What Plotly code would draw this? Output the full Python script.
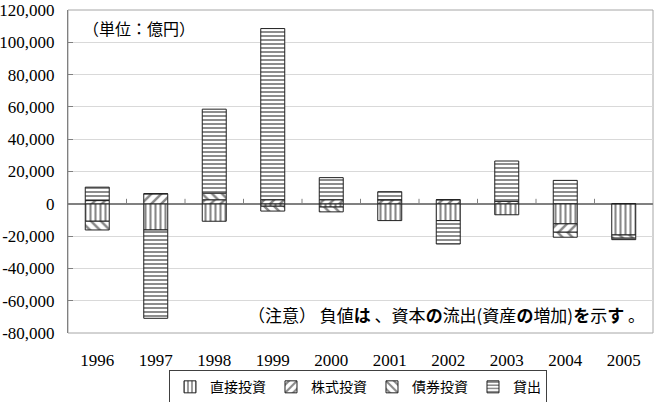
import plotly.graph_objects as go

years = ["1996", "1997", "1998", "1999", "2000", "2001", "2002", "2003", "2004", "2005"]
direct = [-10800, -16200, -10800, -1500, -2000, -10400, -10400, -6800, -12400, -19300]
equity = [2000, 6200, 2500, 2500, 2500, 2500, 2500, 1500, -5200, 0]
bonds = [-5400, 0, 4100, -3000, -3000, 0, 0, 0, -3100, -2000]
loans = [8300, -54700, 52000, 106000, 13700, 5000, -14500, 25000, 14500, -900]

series_names = ["直接投資", "株式投資", "債券投資", "貸出"]
y_tickvals = [-80000, -60000, -40000, -20000, 0, 20000, 40000, 60000, 80000, 100000, 120000]
y_ticktext = ["-80,000", "-60,000", "-40,000", "-20,000", "0", "20,000", "40,000",
              "60,000", "80,000", "100,000", "120,000"]

serif = "Liberation Serif"
gothic = "Noto Sans CJK JP"

patterns = [
    dict(shape="|", size=5, solidity=0.42),
    dict(shape="/", size=7, solidity=0.36),
    dict(shape="\\", size=7, solidity=0.36),
    dict(shape="-", size=4, solidity=0.48),
]

fig = go.Figure()
for name, vals, pat in zip(series_names, [direct, equity, bonds, loans], patterns):
    fig.add_trace(go.Bar(
        x=years, y=vals, name=name,
        marker=dict(color="white",
                    line=dict(color="#202020", width=1),
                    pattern=dict(fgcolor="#101010", bgcolor="white", **pat)),
    ))

# small category tick marks on the zero line
shapes = []
for i in range(len(years) - 1):
    shapes.append(dict(type="line", xref="x", yref="y", x0=i + 0.5, x1=i + 0.5,
                       ysizemode="pixel", yanchor=0, y0=0, y1=5,
                       line=dict(color="#808080", width=1)))
# plot area frame
shapes.append(dict(type="rect", xref="paper", yref="paper", x0=0, x1=1, y0=0, y1=1,
                   line=dict(color="#a6a6a6", width=1), layer="below"))

fig.update_layout(
    width=658, height=402,
    margin=dict(l=68, r=5, t=10, b=69, autoexpand=False),
    paper_bgcolor="white", plot_bgcolor="white",
    barmode="relative", bargap=0.59,
    shapes=shapes,
    showlegend=True,
    legend=dict(orientation="h", x=0.4957, xanchor="center",
                yref="container", y=0.079, yanchor="top",
                bordercolor="#404040", borderwidth=1,
                font=dict(family=gothic, size=14, color="black"),
                itemwidth=30, traceorder="normal"),
    xaxis=dict(type="category", showgrid=False, showline=False, ticks="",
               tickfont=dict(family=serif, size=17, color="black"),
               ticklabelstandoff=15, automargin=False),
    yaxis=dict(range=[-80000, 120000], tickvals=y_tickvals, ticktext=y_ticktext,
               showgrid=True, gridcolor="#d9d9d9", gridwidth=1,
               zeroline=True, zerolinecolor="#808080", zerolinewidth=1.5,
               showline=True, linecolor="#808080", linewidth=1,
               ticks="inside", ticklen=5, tickcolor="#808080",
               tickfont=dict(family=serif, size=17, color="black"),
               ticklabelstandoff=9, automargin=False),
    annotations=[
        dict(text="（単位：億円）", xref="paper", yref="paper", x=0.022, y=0.945,
             xanchor="left", yanchor="middle", showarrow=False,
             font=dict(family=gothic, size=16, color="black")),
        dict(text="（注意） 負値<b>は</b> 、資本<b>の</b>流出(資産<b>の</b>増加)<b>を</b>示<b>す</b> 。",
             xref="paper", yref="paper", x=0.99, y=0.058,
             xanchor="right", yanchor="middle", showarrow=False,
             font=dict(family=gothic, size=17, color="black")),
    ],
)

fig.write_html("out.html")
